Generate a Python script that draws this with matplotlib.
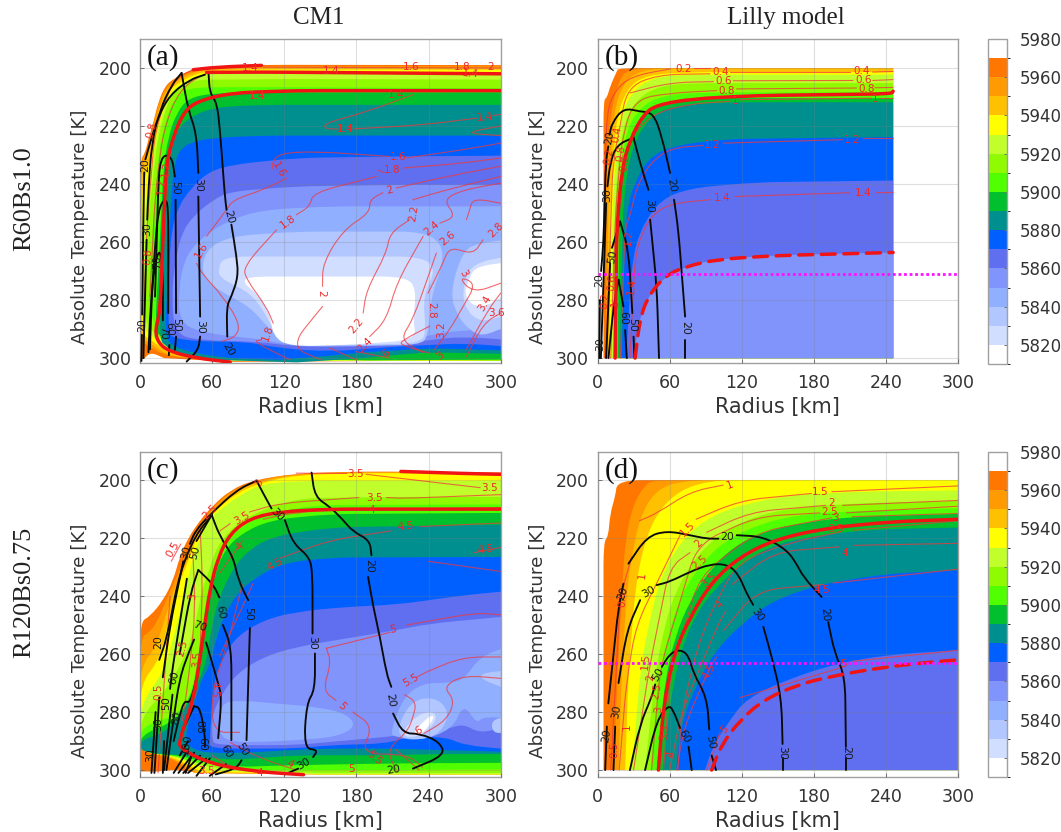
import numpy as np
import matplotlib
matplotlib.use("Agg")
import matplotlib.pyplot as plt
from matplotlib.colors import BoundaryNorm, ListedColormap
from matplotlib.colorbar import ColorbarBase
from matplotlib.path import Path
from matplotlib.patches import PathPatch

GAP = (np.nan, np.nan)

# colour bar
levels = [5810, 5820, 5830, 5840, 5850, 5860, 5870, 5880, 5890, 5900, 5910,
          5920, 5930, 5940, 5950, 5960, 5970, 5980]
band_colors = ["#ffffff", "#d2deff", "#b2c6ff", "#90b0ff", "#8094fb", "#5f6ff0",
               "#0060ff", "#008f8f", "#00c02e", "#50ff00", "#90fa00", "#c0ff2c",
               "#ffff00", "#ffc000", "#ff9a00", "#ff7700", "#ffffff"]
cbar_ticks = [5820, 5840, 5860, 5880, 5900, 5920, 5940, 5960, 5980]

# ---- panel (a): regions where theta_e is below a level, (radius km, T K)
a_5970 = [(0, 232), (4.5, 229), (7, 224.5), (11, 219), (15, 212), (21, 206), (29, 203.5), (42, 200.6), (55, 199.5), (102, 198.9), (305, 199), (305, 300.8), (75, 301.3), (20, 300), (9, 298), (4, 300), (0, 300.5)]
a_5960 = [(0, 232.2), (5.5, 229.3), (8.3, 224.7), (11, 219), (15.2, 212.7), (20.8, 207), (29, 204), (41.5, 201.2), (55.4, 200), (102.5, 199.4), (305, 199.4), (305, 300.8), (80, 301), (22, 299.5), (8, 296), (0, 294)]
a_5950 = [(0.8, 235), (7, 229.5), (10, 224.5), (12.5, 219.5), (16.6, 213), (22, 207.5), (30, 204.6), (43, 201.7), (58, 200.4), (102, 199.9), (305, 199.9), (305, 300.8), (80, 301), (24, 299.5), (9, 295), (0.8, 293)]
a_5940 = [(1.7, 239.7), (8.3, 232.8), (11, 225.9), (13.9, 220), (18, 213.8), (23.5, 208), (32, 205.2), (44.3, 202.3), (61, 200.8), (102, 200.5), (305, 200.6), (305, 300.8), (80, 301), (26, 299), (10, 294), (1.7, 292)]
a_5930 = [(2.8, 251), (9.7, 235), (12.5, 226.5), (15.2, 220.7), (19.4, 214.4), (25, 208.6), (33, 205.8), (45.7, 202.9), (63.7, 201.5), (102, 201.3), (305, 201.4), (305, 300.8), (80, 301), (28, 299), (12, 293), (2.8, 290)]
a_5920 = [(4, 261.5), (11, 237.4), (13.9, 227), (16.6, 221.3), (20.8, 215), (26.3, 209.2), (34.6, 206.6), (47, 204), (69, 204), (130, 203.8), (305, 204), (305, 300.8), (80, 300.5), (30, 298.5), (14, 292), (4, 288)]
a_5910 = [(7, 278.8), (12.5, 244.3), (16, 228.2), (19.4, 221.3), (23.5, 215.5), (29, 210.4), (38.8, 207.2), (55.4, 206.6), (102, 206.6), (305, 207), (305, 300.8), (80, 300), (30, 297.5), (16, 291), (8, 285)]
a_5900 = [(12.5, 290.3), (17, 255.8), (19.4, 235), (23.5, 223.6), (30.5, 215.5), (40, 210.4), (61, 208.6), (102.5, 208.4), (305, 208.4), (305, 300.5), (190, 300.8), (85, 300), (35, 297), (18, 293)]
a_5890 = [(16, 293.7), (19.4, 267.3), (23, 238.5), (25.5, 229.3), (30.5, 221.8), (40, 217.3), (61, 213.5), (102.5, 212.7), (305, 212.7), (305, 298.6), (241, 298), (213, 298.9), (186, 300), (130, 301.5), (61, 300.6), (33, 299), (22, 296)]
a_5880 = [(20.8, 293), (23.5, 267.3), (26.3, 242), (28.3, 234), (33, 228), (44.3, 225.3), (63.7, 224), (102.5, 223.3), (305, 223.3), (305, 297.4), (241, 296.6), (213, 297.4), (186, 298), (158, 299.2), (116, 300.6), (75, 300), (47, 298.5), (27.7, 296)]
a_5870 = [(23.5, 291.4), (24.4, 267.3), (26.3, 255.8), (32, 247.7), (41.5, 242), (55.4, 236.2), (75, 233.4), (130, 231), (213, 230.5), (305, 230.2), (305, 296), (269, 294.9), (241, 295.5), (213, 296), (158, 297.8), (116, 296.6), (88.6, 294.3), (47, 294.3), (27.7, 293)]
a_5860 = [(29, 292), (26.3, 278.8), (29, 267.3), (34.6, 257), (44.3, 251), (61, 245.4), (75, 242.6), (130, 240.8), (213, 240.3), (305, 240.3), (305, 293.7), (269, 292.6), (241, 293.7), (213, 295.5), (158, 296.3), (125, 295.8), (97, 294.3), (52.6, 294)]
a_5850 = [(33, 288), (32, 276.5), (37.4, 265), (52.6, 258), (75, 252.3), (102.5, 248.9), (158, 247.7), (213, 247.7), (305, 247.7), (305, 290.3), (269, 290.3), (241, 292), (213, 294.9), (158, 295.8), (125, 295.5), (102.5, 293.7), (88.6, 293), (54, 291.4)]
a_5840 = [(51, 271.9), (54, 262.7), (75, 258), (130, 256.4), (235, 256.4), (250.7, 260.4), (252, 267.3), (242, 278.8), (239.6, 292.6), (232.7, 295.5), (171.7, 295.8), (124.7, 295.5), (108, 290.3), (91.4, 282.2), (69, 277.6)]
a_5840b = [(257.6, 277.6), (268.7, 262.7), (282.5, 260.4), (305, 259.2), (305, 289), (285, 292.6), (274, 290.3), (264.5, 285.7)]
a_5830 = [(65, 269.6), (69, 265), (235, 265), (246.5, 269.6), (235, 278.8), (238, 290.3), (234, 294.9), (171.7, 295.5), (124.7, 295.5), (110.8, 290.3), (102.5, 283.4), (91.4, 277.6), (75, 274.2), (66.5, 272)]
a_5830b = [(277, 267.3), (305, 265), (305, 285), (282.5, 288), (269, 282), (269, 274.2)]
a_5820 = [(88.6, 271.9), (221.6, 271.9), (230, 276.5), (227, 286.8), (230, 293.7), (171.7, 295.5), (124.7, 296), (110.8, 292.6), (108, 284.5), (97, 277.6), (86, 274.2)]
a_5820b = [(280, 268.4), (305, 267), (305, 278), (282.5, 283.4), (269, 278.8), (274, 272)]
a_regions = [(5970, a_5970), (5960, a_5960), (5950, a_5950), (5940, a_5940), (5930, a_5930), (5920, a_5920), (5910, a_5910), (5900, a_5900), (5890, a_5890), (5880, a_5880), (5870, a_5870), (5860, a_5860), (5850, a_5850), (5840, a_5840), (5840, a_5840b), (5830, a_5830), (5830, a_5830b), (5820, a_5820), (5820, a_5820b)]

a_black = [
    [(54, 202.3), (41.5, 204), (25, 209.2), (15.2, 216.7), (8.3, 225.9), (4.5, 231.5), GAP, (3.5, 236), (2.5, 260), (2.2, 275), (1.8, 285), GAP, (1.6, 292), (1.2, 301)],
    [(57, 201.7), (58, 208.6), (64, 212), (66.5, 221.3), (70.6, 244.3), (72, 248.9), GAP, (76, 254), (80.3, 265), (81.7, 271.9), (76, 278.8), (72, 282.2), (72.6, 292.6), GAP, (66.5, 301.2)],
    [(34.6, 201.7), (40, 214.4), (47, 222.4), (48.5, 236.2), GAP, (48.5, 244.3), (50, 285.7), GAP, (50, 292.6), (48.5, 297.2), (38.8, 301.2)],
    [(34.6, 201.7), (26.3, 205.8), (16.6, 214.4), (9.7, 225.9), (7, 242), (6, 252.3), GAP, (5.5, 259.2), (4.2, 278.8), (2.8, 300)],
    [(15, 244.3), (16.6, 230.5), (26.3, 230), (29, 237.4), GAP, (29.6, 245.4), (30, 284.5), GAP, (30, 292.6), (29, 297.2)],
    [(12.5, 278.8), (15, 244.3)],
    [(8.3, 297), (9.7, 278.8), (12.5, 261.5), (15.2, 248.9), (20.8, 244.8), (23.5, 247.7), (23.5, 284.5), GAP, (24.4, 295.5), (24, 299)],
    [(7, 298), (8.8, 282), (12, 268), (16.5, 262), (19, 270), (19, 287), GAP, (20, 296)],
]
a_red = [
    [(227, 209.2), (185.6, 215.5), (153.7, 219), (153.7, 221), (164.8, 221), GAP, (177.3, 221), (235.5, 219.6), (279.8, 217.3), GAP, (293.6, 216.4), (300, 216)],
    [(300, 220), (268.7, 222.4), (300, 223.3)],
    [(110.8, 235), (109.4, 232.8), (116.3, 229.3), (146.8, 228.8), (207.8, 230.5), GAP, (221.6, 231), (268.7, 228.2), (300, 225.9)],
    [(121.9, 238), (102.5, 242), (77.6, 245.4), (72, 248.9), (55.4, 258), GAP, (47, 267.3), (51.2, 270.7), (69, 278.8), (83, 288), (80.3, 292.6), (67.9, 294.3)],
    [(198, 235.3), (203, 236), GAP, (218.8, 234.5), (268.7, 232.8), (300, 231)],
    [(196.7, 237.4), (144, 243), (141.3, 247.7), (130, 250.6), GAP, (113.6, 255.8), (85.9, 268.4), (88.6, 273), (105, 282.2), (110.8, 288), GAP, (101, 293.7), (94, 294.3), (124.7, 300.6)],
    [(300, 233.9), (254.8, 237.4), (213, 241.4), GAP, (202, 243), (191, 245.4), (191, 250), (169, 255.8), (152, 267.3), (151.8, 275.3), GAP, (151.8, 282.2), (124.7, 296), (150, 300.5)],
    [(300, 237.4), (254.8, 242), (227, 245.4), GAP, (224.4, 252.3), (207.8, 256.9), (205, 263.8), (188.4, 276.5), (185.6, 284.5), GAP, (158, 296.6), (180, 300.6)],
    [(300, 239.7), (268.7, 242), (252, 245.4), (263, 251.2), (249.3, 253.5), GAP, (235.5, 258), (213.3, 274.2), (205, 286.8), (191, 292.6), GAP, (180, 297.8), (207.8, 300)],
    [(300, 246.6), (277, 244.9), (274.2, 248.9), (271.5, 252.3), GAP, (246.5, 263.8), (227, 286.8), (216, 293.7), (235, 298)],
    [(285.3, 259.2), (277, 264.4), (257.6, 261.5), (252, 267.3), (239.6, 277.6), GAP, (241, 289), (218.8, 293.7), (216, 295.5), (241, 298.3)],
    [(300, 274.2), (277, 277.6), (264.5, 271.9), (279.8, 274.2), (268.7, 282.2), (257.6, 290.3), (245, 297)],
    [(300, 277.6), (289.5, 283.4), (271.5, 297)],
    [(300, 284.5), (285.6, 288), (271.5, 299.5)],
    [(55.4, 201.7), (33, 207), (19.4, 221.3), (12.5, 244.3), (8.3, 278.8)],
    [(44, 200.6), (27.7, 204), (12.5, 221.3), (5.5, 255.8), (2.8, 290.3)],
    [(102.5, 199.7), (300, 200)],
]
a_thick = [
    [(75, 301.4), (47, 300), (25, 297.8), (15.2, 294.9), (12.5, 290.3), (16.6, 284.5), (19.4, 255.8), (22, 232.8), (27.7, 223.6), (36, 215.5), (47, 211.5), (75, 208.6), (130, 207.8), (300, 207.8)],
    [(44.3, 200.6), (63.7, 199.7), (101, 199.1)],
    [(55.4, 201.5), (102.5, 201.4), (300, 202)],
]
a_dashed = []
a_red_labels = [(170.4, 221, "1.4", 0), (286.7, 216.9, "1.4", 5), (213, 209.2, "1.4", 0), (91.4, 200, "1.4", 0), (158.7, 201, "1.4", 0), (97, 209.8, "1.4", 0), (274.8, 201.9, "1.4", -5),
                (214.7, 230.8, "1.6", 0), (115, 235, "1.6", -60), (50.7, 262.7, "1.6", 60), (210, 235, "1.8", 0), (123.3, 252.9, "1.8", 35), (106.6, 291.4, "1.8", 70),
                (207.8, 242.2, "2", 15), (151, 277.6, "2", -90), (227.7, 250, "2.2", 80), (180, 289, "2.2", 50), (242.4, 255.2, "2.4", 40), (187, 295.5, "2.4", 45),
                (256.2, 258.7, "2.6", 40), (295.8, 255.8, "2.8", 45), (242.4, 283.4, "2.8", -90), (268.7, 270.7, "3", -60), (287, 281, "3.4", 60), (296.4, 284.5, "3.6", 0), (250.7, 290.3, "3.2", 90),
                (225.8, 199.8, "1.6", 0), (267.9, 199.6, "1.8", 0), (291.4, 199.7, "2", 0), (9.7, 221.3, "0.8", 75), (6.9, 265, "0.8", 85), (22, 235, "1.2", 80), (18, 241, "1.2", 85), (205, 298.5, "6", 45), (250, 299, "3", 45)]
a_black_labels = [(4.2, 233.5, "20", 90), (73.4, 297, "20", -60), (74, 251.5, "20", -75), (48.5, 240.2, "30", -90), (50, 289.2, "30", -90), (6, 255.5, "30", 90), (29, 241.4, "50", -90), (30, 288.5, "50", -90), (24, 290, "60", -90), (19.5, 291.5, "70", -90), (14, 267, "70", 90), (1.6, 288.5, "20", 90)]

# ---- panel (b)
b_5970 = [(5, 300), (5, 210.9), (7.9, 210.3), (10.5, 206.3), (16, 201.2), (17.5, 200), (246, 200), (246, 300)]
b_5960 = [(7.2, 300), (7.2, 232.8), (10.5, 216.6), (17.5, 204), (27, 200), (246, 200), (246, 300)]
b_5950 = [(8.3, 300), (9.1, 244.3), (13.3, 215.5), (21.6, 205), (35.5, 200.8), (63, 200.1), (246, 200.1), (246, 300)]
b_5940 = [(10, 300), (11, 244.3), (15.5, 217.8), (24.4, 206.9), (41, 202.3), (77, 201.4), (246, 201.4), (246, 300)]
b_5930 = [(11, 300), (12.7, 244.3), (17.5, 220), (27, 208.6), (46.5, 203), (77, 202.3), (246, 202.3), (246, 300)]
b_5920 = [(12.7, 300), (14.7, 244.3), (20.2, 221.3), (31.3, 211), (52, 206), (82.5, 205.2), (246, 205.2), (246, 300)]
b_5910 = [(14.7, 300), (16.6, 244.3), (23, 222.4), (35.5, 213.2), (56.2, 209.2), (90.9, 208.4), (246, 208.4), (246, 300)]
b_5900 = [(16.6, 300), (18.3, 244.3), (26.6, 223.6), (39.6, 215), (60.4, 211.3), (90.9, 210.4), (246, 210.4), (246, 300)]
b_5890 = [(18.3, 300), (21.6, 244.3), (28.5, 227), (43.8, 216.7), (63, 213), (104.7, 211.8), (246, 211.8), (246, 300)]
b_5880 = [(20.2, 300), (23, 255.8), (26, 246), (30, 240.8), (41, 231.6), (60.4, 227), (104.7, 224.5), (246, 223.8), (246, 300)]
b_5870 = [(23.8, 300), (28.5, 267.3), (35.5, 255.8), (52, 245.4), (77, 241.4), (132, 239.4), (246, 238.8), (246, 300)]
b_5860 = [(30, 300), (35.5, 284.5), (49.3, 274.2), (71.5, 268.4), (104.7, 265.6), (160, 264.4), (246, 263.6), (246, 300)]
b_regions = [(5970, b_5970), (5960, b_5960), (5950, b_5950), (5940, b_5940), (5930, b_5930), (5920, b_5920), (5910, b_5910), (5900, b_5900), (5890, b_5890), (5880, b_5880), (5870, b_5870), (5860, b_5860)]

b_black = [
    [(10, 223), (12, 219), (21.6, 213.8), (35.5, 215), (46.5, 215.5), (53.5, 223.6), (60.4, 236.2), GAP, (63.7, 245.4), (67.3, 255.8), (72.9, 285.7), GAP, (72.9, 293.7), (72.9, 300)],
    [(9, 227), (7, 232), (5, 260), (3, 270), GAP, (2, 280), (1.5, 300)],
    [(30, 224), (16, 226.5), (10.5, 232.8), (8.3, 240.8), GAP, (7.2, 246.6), (5.5, 267.3), (3.6, 290.3), (2.8, 300)],
    [(30, 224), (35.5, 232.8), (42.4, 242), GAP, (43.8, 252.3), (49.3, 275.3), (51.2, 300)],
    [(18.8, 252.9), (13.3, 260.4), (12, 262), GAP, (10.5, 267.3), (7.2, 300)],
    [(18.8, 252.9), (25.8, 262.7), (29, 284.5), GAP, (30, 292.6), (30.7, 300)],
    [(17.5, 273), (21.6, 282.2), GAP, (23, 290.3), (24.4, 300)],
    [(17.5, 273), (13.3, 282.2), (9.1, 300)],
]
b_red = [
    [(5, 255.8), (6.4, 232.8), (7.8, 215.5), (13.3, 208.6), (27, 202.9), (60.4, 200.3), GAP, (80, 200), (93.6, 200)],
    [(6.4, 300), (9.1, 278.8), (12.7, 232.8), (18.8, 220), (24.4, 206.9), (49.3, 202.3), (93.6, 202), GAP, (110.2, 201.4), (210, 201.4), GAP, (229, 201.4), (246, 201.2)],
    [(27, 208.6), (60.4, 205), (96.4, 204.7), GAP, (113, 204.4), (212.7, 204.3), GAP, (229, 204.3), (246, 204)],
    [(11, 300), (15, 250), (20, 225), (30, 210.9), (60.4, 208.6), (99.2, 207.8), GAP, (115.8, 207.2), (215.5, 206.9), GAP, (230.7, 206.8), (246, 206.7)],
    [(14, 300), (17, 250), (24.4, 225.9), (43.8, 216), (77, 212.3), (110.2, 211.5), GAP, (118.6, 210.9), (228, 210.4), GAP, (234.9, 210.4), (246, 210.4)],
    [(19, 300), (23, 254.6), (27, 251.2), (32.7, 240.8), (43.8, 232.8), (60.4, 227.6), (88, 226.7), GAP, (104.7, 225.9), (204.4, 224.7), GAP, (221, 224.2), (246, 224.2)],
    [(27, 300), (30, 275.3), (31.3, 266), (35.5, 258), (46.5, 250), (63, 246.6), (93.6, 245.4), GAP, (114.4, 244.3), (210, 243), GAP, (232, 243), (246, 242.9)],
]
b_thick = [[(14.7, 300), (16, 255.8), (20.2, 235), (27, 224.7), (38.2, 216), (49.3, 212.7), (79.8, 210.6), (132.4, 209.5), (244.6, 208.9), (246, 208)]]
b_dashed = [[(31.3, 300), (35.5, 285.7), (43.8, 277.6), (57.6, 271.3), (74, 268.4), (99, 266), (146, 264.7), (246, 263.6)]]
b_red_labels = [(72, 200.2, "0.2", 0), (102.5, 201.5, "0.4", 0), (219.7, 201.2, "0.4", 0), (104.7, 204.6, "0.6", 0), (221.6, 204.2, "0.6", 0), (107.5, 207.8, "0.8", 0), (223.8, 207.2, "0.8", 0),
                (114.4, 211.3, "1", 0), (231.3, 210.6, "1", 0), (95, 226.5, "1.2", 0), (212.2, 224.7, "1.2", 0), (25.8, 258.3, "1.2", 85), (104, 244.9, "1.4", 0), (221, 243, "1.4", 0), (28.5, 275.3, "1.4", 85),
                (16, 223, "0.4", 80), (9.1, 230.5, "0.2", 80), (19.4, 229.3, "0.8", 80), (23, 232.8, "0.8", 80), (6, 280, "0.2", 85), (12, 274, "0.6", 85), (15, 281, "1", 85)]
b_black_labels = [(10, 224, "20", 80), (1.7, 273, "20", 90), (8.3, 243.7, "30", 90), (43, 247.4, "30", -90), (12.7, 265, "50", 80), (29, 288.5, "50", -90), (21.6, 286.3, "60", -90), (72.9, 289.7, "20", -90), (61.5, 240.5, "20", -80), (2.5, 295, "30", 90)]
b_magenta = 271

# ---- panel (c)
c_5970 = [(0, 248.9), (8.3, 247), (19.4, 241.4), (27.7, 234.5), (33, 226.5), (40, 220), (50, 213.8), (61, 208.6), (75, 203.5), (94, 200), (130, 197.7), (186, 197), (305, 197.4), (305, 301.5), (150, 301.5), (60, 301), (28, 300), (14, 300.5), (0, 300.5)]
c_5960 = [(0, 254), (11, 251.8), (22, 241.4), (30.5, 233.4), (37.4, 226.5), (44.3, 220), (52.6, 213.8), (63.7, 208), (77.6, 203.5), (97, 200), (130, 197.7), (186, 197.2), (305, 197.5), (305, 301.5), (150, 301.5), (45, 301), (22, 295), (0, 294)]
c_5950 = [(0, 264.4), (13.9, 257.5), (25, 241.4), (33, 233.4), (40, 226.5), (45.7, 220), (54, 213.8), (65, 208.6), (79, 204), (98, 200.6), (130, 198), (186, 197.4), (305, 197.7), (305, 301.5), (150, 301.5), (48, 301), (24, 295), (0, 294)]
c_5940 = [(0, 270.2), (16.6, 262), (26.3, 243.7), (34.6, 233.4), (41.5, 226.5), (47, 220), (55.4, 213.8), (66.5, 209.2), (80.3, 204.6), (99.7, 201), (130, 198.3), (186, 197.6), (305, 197.8), (305, 301.5), (150, 301.5), (50, 300.5), (26, 295), (0, 294)]
c_5930 = [(0, 277), (19.4, 266.7), (30.5, 250.6), (38.8, 235.7), (44.3, 226.5), (50, 220), (56.8, 213.8), (67.9, 209.8), (83, 205.2), (102.5, 201), (144, 200.2), (305, 200.2), (305, 301.5), (150, 301.5), (55, 300), (28, 295), (0, 294)]
c_5920 = [(0, 281.7), (22, 272.5), (38.8, 259.8), (47, 248.3), (51.2, 238), (56.8, 232.2), (63.7, 223), (77.6, 216), (97, 211), (130, 206.3), (213, 205.8), (305, 205.8), (305, 301), (150, 301), (60, 299.5), (30, 295), (0, 294)]
c_5910 = [(0, 285), (27.7, 281.7), (41.5, 275.9), (48.5, 261), (54, 243.7), (59.6, 232.2), (67.9, 223), (81.7, 216.7), (102.5, 212), (144, 208.6), (305, 208.4), (305, 299.8), (158, 300), (102.5, 300), (38.8, 297), (32, 295), (0, 294)]
c_5900 = [(0, 288), (25, 284), (38.8, 278.2), (50, 264.4), (56.8, 243.7), (62.3, 232.2), (70.6, 224), (84.5, 218.4), (108, 213.8), (158, 211.7), (305, 211.3), (305, 297.5), (213, 297.7), (130, 298.3), (75, 299), (41.5, 296), (34, 295), (0, 294)]
c_5890 = [(0, 289.7), (19.4, 287.4), (36, 280.5), (54, 265.6), (59.6, 250.6), (65, 241.4), (75, 232.2), (87, 225.3), (108, 219.6), (158, 216.3), (305, 215.3), (305, 294.5), (241, 294.5), (213, 294.9), (130, 294.9), (75, 296.6), (41.5, 294.9), (0, 294)]
c_5880 = [(40, 284), (51.2, 268.4), (58, 264.4), (65, 251.8), (75, 242.5), (88.6, 235.7), (116, 228.8), (158, 226.7), (305, 226.5), (305, 293.7), (241, 293), (207.8, 292.6), (158, 292.6), (130, 293), (75, 294.3), (47, 293.7), (37.4, 290.3)]
c_5870 = [(58, 289.7), (61, 270), (69, 261), (80.3, 254), (102.5, 248.3), (130, 245.4), (171.7, 243.7), (213, 243), (269, 239.7), (305, 238.3), (305, 292.8), (269, 291.4), (255, 288.6), (221.6, 288.6), (205, 290.9), (158, 291.4), (130, 292.6), (58, 292.6)]
c_5860 = [(59.6, 289.7), (59.6, 281.7), (66.5, 274.8), (80.3, 266.7), (102.5, 261), (130, 257.5), (171.7, 254.6), (213, 251.8), (241, 249.5), (305, 247), (305, 285), (282.5, 287.4), (269, 284), (255, 286), (205, 288.6), (158, 290.3), (130, 291.4), (63.7, 291.4)]
c_5850 = [(66.5, 277), (83, 275.9), (110.8, 277), (146.8, 278.2), (171.7, 280.5), (180, 285), (163.4, 288.6), (130, 289.7), (102.5, 290.3), (75, 290.3), (65, 287.4)]
c_5850b = [(207.8, 287.4), (219, 274.8), (235.4, 270), (255, 270), (269, 269), (282.5, 261), (305, 257.5), (305, 282), (285, 281.7), (280, 284), (269, 277), (260, 286), (232, 290), (213, 288.6)]
c_5840 = [(213, 287.4), (222, 278.2), (235.4, 274.8), (250.7, 276), (257.6, 281.7), (246.5, 288.6), (224, 289.7)]
c_5840b = [(282.5, 266.7), (305, 265.6), (305, 272), (285, 269)]
c_5840c = [(292, 282.8), (305, 281.6), (305, 287), (293.6, 287.4)]
c_5830 = [(217.5, 287.4), (227, 282.2), (241, 279.4), (248, 281.7), (238, 287.4), (224, 289)]
c_5820 = [(225.8, 288), (235.4, 283.4), (242.4, 281), (245, 282), (235.4, 287.4)]
c_regions = [(5970, c_5970), (5960, c_5960), (5950, c_5950), (5940, c_5940), (5930, c_5930), (5920, c_5920), (5910, c_5910), (5900, c_5900), (5890, c_5890), (5880, c_5880), (5870, c_5870), (5860, c_5860), (5850, c_5850), (5850, c_5850b), (5840, c_5840), (5840, c_5840b), (5840, c_5840c), (5830, c_5830), (5820, c_5820)]

c_black = [
    [(142.7, 197.4), (145.5, 205.8), (158, 209.2), (169, 213.8), (177.3, 217.8), (191, 220.7), (192.5, 225.9), GAP, (189.7, 233.4), (194, 243.7), (199.5, 254), (205, 266.7), (209, 271.3), GAP, (210.5, 280.5), (218.8, 287.4), (232.7, 287.4), (249.3, 290.3), (253.5, 294.9), (227, 299.5), GAP, (180, 301.5)],
    [(97, 200.2), (102.5, 204.6), (109.4, 209.8), GAP, (120.5, 213.8), (127.4, 221.9), (141, 226.5), (143.5, 232.2), (143.5, 252.9), GAP, (145.5, 259.8), (145.5, 272.5), (138.5, 277), (136.3, 292.6), (148, 293), (144, 295.5), GAP, (131.6, 299.5), (120.5, 301.5)],
    [(97, 200.2), (80, 203.5), (58, 212), (46, 217.5), (41.5, 222), GAP, (36, 228), (25, 250), (19, 268), GAP, (16, 275), (12, 301)],
    [(60, 212), (46, 219), (33, 232), (22, 255), (16, 262), GAP, (13, 280), (9.5, 301)],
    [(59.6, 212), (66.5, 219.5), (77.6, 226.5), (81.7, 234.5), (90, 241.4), GAP, (91.4, 251), (88.6, 289.7), GAP, (84.5, 296.6), (80, 299.5), (63, 301.5)],
    [(59.6, 212), (47, 221), GAP, (39, 234), (27, 265), (25, 272), GAP, (20, 290), (19, 301)],
    [(48.5, 231), (61, 236), (66, 240.5), GAP, (69, 250), (76, 257.5), (76, 289.7), GAP, (71.5, 298), (58, 302)],
    [(48.5, 231), (42, 239), (33, 260), GAP, (27, 274), (20, 300)],
    [(55, 256), (65, 270), (68, 275), (65, 289), GAP, (58, 296), (47, 302)],
    [(45, 255), (41, 259), (33, 268), (27, 285), (22, 300)],
    [(45, 278), (50, 278.5), (54, 288), (54, 292)],
    [(37, 285), (45, 278)],
    [(33, 295), (40, 290), GAP, (43, 295), (38, 301)],
    [(28, 290), (33, 281), (37, 276), (42, 277), (47, 268)],
    [(28, 301), (40, 293)], [(32, 301), (45, 294)], [(36, 301), (50, 295)], [(40, 301), (55, 296)],
]
c_red = [
    [(130, 197.6), (172, 197.7), GAP, (188, 198), (283, 202.6), GAP, (300, 203)],
    [(66.5, 217.5), (75, 215), GAP, (91, 211), (116, 208), (182, 206), GAP, (205, 206), (219, 206.3), (300, 205)],
    [(66.5, 232), (85, 221), GAP, (102.5, 213.5), (130, 211), (186, 210), GAP, (203, 210), (300, 209.5)],
    [(66, 261), (94, 235.7), GAP, (116, 227), (158, 220.7), (209, 217.5), GAP, (232.5, 216), (300, 214.8)],
    [(300, 223.2), (278, 225), GAP, (240, 228), (300, 231.5)],
    [(155, 258), (208, 252.5), GAP, (221.6, 250), (280, 245.7), (300, 246.5)],
    [(155, 258), (159, 263), (152, 272.5), (163, 276), GAP, (177, 280), (194, 285), (183, 294.5), (222, 294.5), (235, 299)],
    [(300, 261), (269, 261), (241, 265.6), (230, 268), GAP, (220, 274), (230, 276.5), (227, 282), (222, 287), (205, 293), (213, 300)],
    [(300, 268.4), (269, 267.3), (252, 271.3), (262, 275.9), (255, 282.8), (236, 287.4), GAP, (213, 293), (232, 300)],
    [(83, 287), (60, 287), (60, 272), (72, 258), (85, 236)],
    [(44, 225), (46, 245), (40, 270), (35, 283)],
    [(50, 216), (52, 235), (50, 260), (46, 275)],
    [(15, 301), (25, 240)], [(26, 228), (34, 222)],
    [(75, 290.5), (100, 296), (130, 300)], [(60, 295), (75, 299), (100, 301)],
]
c_thick = [
    [(136, 301.6), (97, 300.6), (58, 297.8), (33, 292.5), (33, 289.7), (37.4, 284), (44.3, 275.9), (50, 261), (54, 249.5), (58, 238), (65, 226.5), (75, 218.4), (91.4, 213.2), (116, 210.9), (158, 210), (300, 210)],
    [(217, 197), (269, 197.7), (300, 198)],
]
c_dashed = []
c_red_labels = [(179, 197.9, "3.5", 0), (291, 202.8, "3.5", 0), (195, 206, "3.5", 0), (85, 213, "3.5", 30), (193, 210.3, "4", 0), (83, 223, "4", 45),
                (221, 216, "4.5", 5), (112, 229, "4.5", 30), (287, 224, "4.5", 5), (210, 251.5, "5", 10), (168, 278, "5", -45), (225, 269, "5.5", 30), (232, 286.5, "6", 30),
                (100, 301, "4", 0), (125, 298, "4", -30), (176, 299.5, "5", 0), (195, 296, "5.5", -40), (27, 224, "0.5", 60), (15, 273, "0.5", 90), (44, 240, "3", 85), (47, 262, "3.5", 85), (35, 258, "2.5", 75), (62, 272, "4.5", -90), (99, 201, "3", 60), (58, 211, "2.5", 45), (55, 300.5, "3.5", 0)]
c_black_labels = [(15, 256, "20", 90), (114, 212, "30", -45), (191, 229.5, "20", -90), (143.5, 256, "30", -90), (208, 276, "20", -80), (136, 298, "30", 30), (211, 300, "20", 10),
                  (38, 225, "30", 75), (46, 225, "50", 75), (90, 246, "50", -90), (67, 245.5, "60", -80), (72, 293.5, "60", -60), (85, 293, "50", -60), (50, 250.5, "70", -20),
                  (28, 268, "60", 75), (22, 277, "50", 90), (15, 284, "30", 90), (30, 282, "80", 80), (49, 285, "88", -90), (52, 291, "60", -90), (39, 291, "100", 80), (8.5, 295, "30", 90)]

# ---- panel (d)
d_5970 = [(5, 300), (5, 221.3), (9, 219.5), (10.5, 211.5), (14.7, 205.8), (16.6, 200), (305, 200), (305, 300)]
d_5960 = [(13.3, 300), (15.5, 278.8), (18.8, 250), (23, 220.7), (30, 208), (39.6, 201.7), (46.5, 200), (305, 200), (305, 300)]
d_5950 = [(17.5, 300), (20.2, 267), (24.4, 238), (30, 222), (38, 210), (52, 202.3), (77, 200), (305, 200), (305, 300)]
d_5940 = [(23, 300), (25.8, 267), (31.3, 238), (38, 223), (49, 211.5), (68, 203.5), (93.6, 200.2), (126.9, 200), (305, 200), (305, 300)]
d_5930 = [(28.5, 300), (35.5, 266.7), (41, 252.6), (52, 233.9), (68.7, 221.3), (90.9, 213.2), (118.6, 208.6), (160, 205.2), (215.5, 204), (305, 203.5), (305, 300)]
d_5920 = [(39.6, 300), (48, 266.7), (56.2, 249.5), (65.4, 238), (79.8, 227.6), (99.2, 219.4), (126.9, 213), (160, 209.7), (215.5, 208), (305, 207.1), (305, 300)]
d_5910 = [(44, 300), (52, 266.7), (60.4, 250.6), (71.5, 238), (86.7, 228.8), (104.7, 221.3), (132.4, 215.5), (165.6, 212), (215.5, 210.6), (305, 209.7), (305, 300)]
d_5900 = [(49.3, 300), (56.2, 269), (64.5, 254), (77, 241.4), (93.6, 231), (113, 223), (138, 217.8), (174, 214.4), (215.5, 212.6), (305, 211.6), (305, 300)]
d_5890 = [(54.3, 300), (60.4, 276.5), (70, 257.5), (85.3, 243.7), (104.7, 234.5), (118.6, 229.5), (143.5, 222.6), (182, 219), (231, 217), (305, 216.3), (305, 300)]
d_5880 = [(65.4, 300), (68.7, 286), (79.8, 272.5), (96.4, 259.8), (118.6, 250), (146.3, 241.4), (187.8, 235.7), (243.2, 232.2), (305, 231), (305, 300)]
d_5870 = [(89.5, 300), (96.4, 291.4), (110.2, 282.8), (124, 275.3), (160, 268.4), (201.7, 263), (243.2, 260.2), (305, 258.5), (305, 300)]
d_regions = [(5970, d_5970), (5960, d_5960), (5950, d_5950), (5940, d_5940), (5930, d_5930), (5920, d_5920), (5910, d_5910), (5900, d_5900), (5890, d_5890), (5880, d_5880), (5870, d_5870)]

d_black = [
    [(6.4, 300), (7.8, 285), GAP, (9, 277), (17.5, 243.7), (21.6, 235.7), GAP, (25.8, 228.8), (41, 219.5), (57.6, 217.5), (77, 219), (90.9, 220.2), (100.6, 220.2), GAP, (115.8, 219), (138, 219.5), (157.3, 224), (165.6, 228.8), (171.3, 233.4), (186.5, 240.3), GAP, (192, 249), (197.5, 260), (206, 267.5), (206.7, 292), GAP, (206.7, 296), (206.7, 300)],
    [(13.3, 300), (14.7, 285), GAP, (17.5, 270), (24.4, 251.8), (35.5, 241.4), GAP, (49.3, 236.2), (60.4, 235), (77, 231.6), (93.6, 229), (107.5, 229), (117, 232.2), (124, 239), (129.5, 243), GAP, (138, 250.6), (145, 261), (153, 274.8), (154, 291), GAP, (154, 296), (154, 300)],
    [(27, 300), (35.5, 284), (45, 275), (48, 270.5), GAP, (53.5, 264.4), (60.4, 259.8), (68.7, 258.4), (75.8, 260.4), (79.8, 266.7), (90.9, 274.8), (93, 286), GAP, (95, 295), (98.6, 300)],
    [(39.6, 300), (49.3, 282.8), (59, 277.6), (63, 279.3), (68.7, 285.5), GAP, (75.8, 292), (78.4, 300)],
]
d_red = [
    [(11, 300), (15, 270), (19, 240), (28.5, 226.5), GAP, (35, 214), (49.3, 211.5), (77, 204), (104.7, 201.7), GAP, (124, 200.2)],
    [(18, 300), (24, 270), (32, 250), (53.5, 232), (68.7, 219), GAP, (82, 213.5), (118.6, 207), (178, 204.6), GAP, (195, 204), (300, 202)],
    [(30, 300), (43, 265), (60, 230), (77, 225), GAP, (90.9, 218), (126.9, 211), (190, 208.7), GAP, (204, 208.7), (300, 207)],
    [(45, 300), (52, 265), (83, 222), (132.4, 212.6), (185, 211.3), GAP, (207, 211.3), (300, 209)],
    [(55, 300), (60, 268), (85, 233), (132.4, 218), (195, 213), GAP, (212, 212.6), (300, 211.5)],
    [(67, 300), (70, 280), (85, 255), (102, 239), (118, 228), (160, 221.5), (202, 217.9), GAP, (213, 217.3), (300, 214)],
    [(66, 300), (72, 285), (93, 265), (99, 261), GAP, (104.7, 252), (132.4, 238), (187.8, 236), GAP, (196, 235.5), (300, 230.7)],
    [(90.9, 300), (102, 287), GAP, (118.6, 275), (160, 270), (204, 264.5), GAP, (212, 262.5), (300, 258.7)],
    [(60, 300), (70, 280), (100, 250), (107, 245), GAP, (112, 236), (146, 224.8), (201.5, 223), GAP, (213, 222.5), (300, 221.8)],
]
d_thick = [[(50.7, 300), (54.9, 278), (63, 260.7), (77, 247), (96.4, 234.5), (118.6, 226.5), (146.3, 220.7), (187.8, 216.7), (243.2, 214.4), (300, 213.5)]]
d_dashed = [[(95, 300), (103, 291.4), (118.6, 282.8), (138, 275.9), (165.6, 270.7), (193, 267.8), (232, 264.9), (271, 263), (300, 262)]]
d_red_labels = [(110, 201.7, "1", 20), (185.5, 204, "1.5", 0), (195, 208, "2", 0), (193, 211, "2.5", 0), (198, 213.2, "3", 0), (198, 216.8, "3.5", 0), (206, 225, "4", 0), (187, 238, "4.5", 0), (205, 263.5, "5", 0),
                (75, 217, "1.5", 45), (84, 222, "2", 45), (85, 228.5, "2.5", 40), (93, 234.5, "3.5", 45), (102, 243, "4", 45), (93, 266, "4.5", 60), (106, 286, "5", 45),
                (37, 233, "1", 85), (21, 241, "0.5", 90), (40, 262.5, "1.5", 85), (44, 268, "2", 85), (49, 273, "2.5", 80), (51, 279, "3", 85), (56, 287, "3.5", 80), (61, 294.5, "4", 80), (24, 285, "1", 90), (14, 293, "0.5", 90)]
d_black_labels = [(7.5, 288, "20", 80), (15.5, 280, "30", 80), (21, 239, "20", 70), (43, 238.5, "30", 30), (108, 219.5, "20", 0), (133, 246.5, "30", -55), (189, 246.5, "20", -85), (154, 294, "30", -90), (206.7, 294, "20", -90), (50, 267, "50", 60), (94, 290.5, "50", -80), (72, 288.5, "60", -60)]
d_magenta = 263

# panel layout in figure pixels: left, right, top, bottom
W, H = 1061, 832
panels = [
    ("(a)", a_regions, a_black, a_red, a_thick, a_dashed, a_red_labels, a_black_labels, None, (140, 500.7, 39, 363), (190, 301.7), 305),
    ("(b)", b_regions, b_black, b_red, b_thick, b_dashed, b_red_labels, b_black_labels, b_magenta, (597.5, 958, 39, 363), (190, 301.7), 246),
    ("(c)", c_regions, c_black, c_red, c_thick, c_dashed, c_red_labels, c_black_labels, None, (140, 500.7, 452, 777), (190.3, 302.4), 305),
    ("(d)", d_regions, d_black, d_red, d_thick, d_dashed, d_red_labels, d_black_labels, d_magenta, (597.5, 958, 452, 777), (190.3, 302.4), 305),
]

TXT = "#333333"
PX_PER_KM = 1.2
PX_PER_K = 2.9
ROUND_PX = 24


def corner_points(prev, v, nxt):
    """Points on both sides of vertex v where the rounded corner starts and ends."""
    scale = np.array([PX_PER_KM, PX_PER_K])
    d1 = np.hypot(*((prev - v) * scale))
    d2 = np.hypot(*((nxt - v) * scale))
    c1 = min(0.5, ROUND_PX / max(d1, 1e-6))
    c2 = min(0.5, ROUND_PX / max(d2, 1e-6))
    return v + (prev - v) * c1, v + (nxt - v) * c2


def rounded_closed(pts, sharp_r):
    pts = np.array(pts, dtype=float)
    verts, codes = [], []
    n = len(pts)
    for i in range(n):
        v = pts[i]
        if v[0] >= sharp_r or v[1] >= 300:
            verts.append(v)
            codes.append(Path.LINETO)
        else:
            a, b = corner_points(pts[i - 1], v, pts[(i + 1) % n])
            verts += [a, v, b]
            codes += [Path.LINETO, Path.CURVE3, Path.CURVE3]
    codes[0] = Path.MOVETO
    verts.append(verts[0])
    codes.append(Path.CLOSEPOLY)
    return Path(verts, codes)


def rounded_open(pts):
    pts = np.array(pts, dtype=float)
    verts, codes = [pts[0]], [Path.MOVETO]
    for i in range(1, len(pts) - 1):
        a, b = corner_points(pts[i - 1], pts[i], pts[i + 1])
        verts += [a, pts[i], b]
        codes += [Path.LINETO, Path.CURVE3, Path.CURVE3]
    verts.append(pts[-1])
    codes.append(Path.LINETO)
    return Path(verts, codes)


def add_axes_px(fig, left, right, top, bottom):
    return fig.add_axes([left / W, 1 - bottom / H, (right - left) / W, (bottom - top) / H])


def draw_lines(ax, lines, **kw):
    for pts in lines:
        run = []
        for p in list(pts) + [GAP]:
            if np.isnan(p[0]):
                if len(run) > 1:
                    ax.add_patch(PathPatch(rounded_open(run), fill=False, capstyle="round", **kw))
                run = []
            else:
                run.append(p)


def draw_labels(ax, labels, color, size, z):
    for r, t, s, rot in labels:
        ax.text(r, t, s, color=color, fontsize=size, rotation=rot, ha="center", va="center",
                rotation_mode="anchor", zorder=z)


fig = plt.figure(figsize=(W / 100, H / 100), dpi=100)
color_of = dict(zip(levels[1:], band_colors))

for name, regions, black, red, thick, dashed, red_lab, black_lab, magenta, box, ylim, sharp_r in panels:
    ax = add_axes_px(fig, *box)
    for level, pts in regions:
        ax.add_patch(PathPatch(rounded_closed(pts, sharp_r), facecolor=color_of[level], lw=0, zorder=1))
    draw_lines(ax, red, edgecolor="#f0383c", lw=0.8, alpha=0.75, zorder=3)
    draw_lines(ax, black, edgecolor="#0a0a0a", lw=1.35, zorder=4)
    draw_lines(ax, thick, edgecolor="#f01414", lw=2.5, zorder=5)
    draw_lines(ax, dashed, edgecolor="#f01414", lw=2.5, ls=(0, (4, 2.5)), zorder=5)
    draw_labels(ax, red_lab, "#f02828", 7.5, 6)
    draw_labels(ax, black_lab, "#1a1a1a", 7.8, 6)
    if magenta is not None:
        ax.axhline(magenta, color="#ff10ff", lw=2, ls=(0, (1, 1)), zorder=6)
    ax.set_xlim(0, 300)
    ax.set_ylim(ylim[1], ylim[0])
    ax.set_xticks(np.arange(0, 301, 60))
    ax.set_yticks(np.arange(200, 301, 20))
    ax.grid(True, color="#808080", alpha=0.25, lw=0.8, zorder=7)
    ax.set_axisbelow(False)
    ax.tick_params(direction="in", length=3, width=0.7, labelsize=12.5, colors="#707070",
                   labelcolor=TXT, top=False, right=False)
    ax.tick_params(axis="x", pad=8)
    ax.tick_params(axis="y", pad=6)
    for spine in ax.spines.values():
        spine.set_color("#a0a0a0")
        spine.set_linewidth(1.0)
    ax.set_xlabel("Radius [km]", fontsize=15, color=TXT)
    ax.set_ylabel("Absolute Temperature [K]", fontsize=13.2, color=TXT)
    ax.xaxis.set_label_coords(0.5, -0.105)
    ax.yaxis.set_label_coords(-0.141, 0.42)
    ax.text(0.02, 0.983, name, transform=ax.transAxes, family="Liberation Serif", fontsize=21,
            color="#111111", ha="left", va="top", zorder=8)

# colour bars
cmap = ListedColormap(band_colors)
norm = BoundaryNorm(levels, cmap.N)
for top, bottom in [(39, 364), (452, 777)]:
    cax = add_axes_px(fig, 988, 1007, top, bottom)
    cb = ColorbarBase(cax, cmap=cmap, norm=norm, boundaries=levels, ticks=cbar_ticks,
                      spacing="proportional", drawedges=False)
    cb.ax.set_yticklabels([str(t) for t in cbar_ticks])
    cb.ax.tick_params(labelsize=12, length=2.5, width=0.7, direction="in", colors="#707070",
                      labelcolor=TXT, pad=9)
    cb.outline.set_edgecolor("#a0a0a0")
    cb.outline.set_linewidth(1.0)

# column and row titles
serif = "Liberation Serif"
fig.text(319 / W, 1 - 18 / H, "CM1", family=serif, fontsize=18, color="#222222", ha="center", va="center")
fig.text(786 / W, 1 - 18 / H, "Lilly model", family=serif, fontsize=18, color="#222222", ha="center", va="center")
fig.text(24 / W, 1 - 199 / H, "R60Bs1.0", family=serif, fontsize=19, color="#222222", rotation=90, ha="center", va="center")
fig.text(24 / W, 1 - 592 / H, "R120Bs0.75", family=serif, fontsize=19, color="#222222", rotation=90, ha="center", va="center")

fig.savefig("out.png", dpi=100)
plt.close(fig)
